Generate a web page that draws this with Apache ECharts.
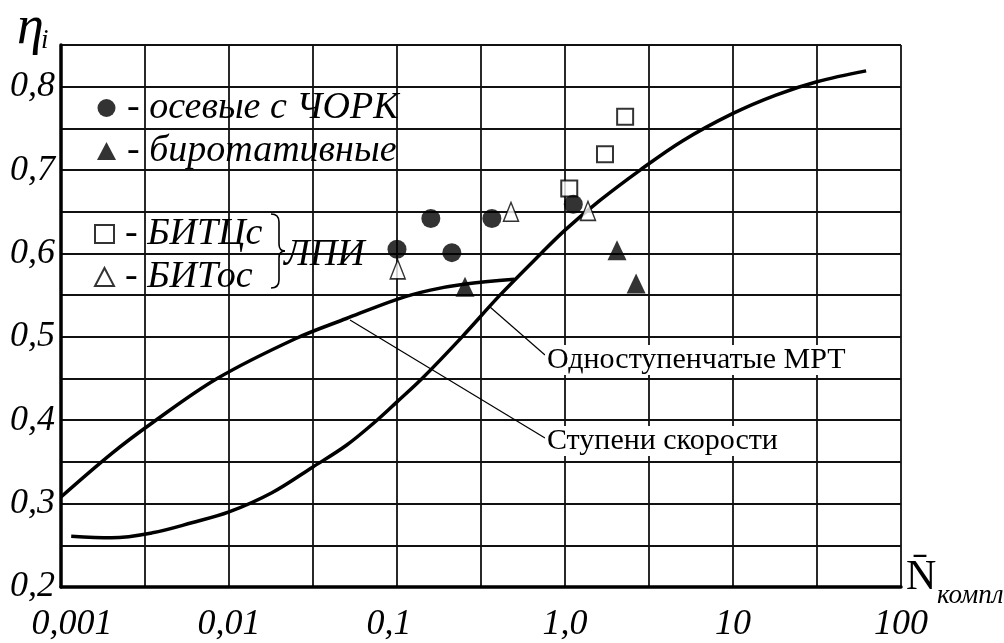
<!DOCTYPE html>
<html>
<head>
<meta charset="utf-8">
<style>
  html, body { margin: 0; padding: 0; background: #fff; }
  #chart { width: 1004px; height: 643px; }
</style>
<script src="https://cdn.jsdelivr.net/npm/echarts@6/dist/echarts.min.js"></script>
</head>
<body>
<div id="chart"></div>
<script>
// curve "Ступени скорости"
const stageX = [0.001, 0.002, 0.0035, 0.0085, 0.025, 0.05, 0.1, 0.158, 0.25, 0.5];
const stageY = [0.308, 0.360, 0.397, 0.450, 0.498, 0.522, 0.545, 0.556, 0.563, 0.569];

// curve "Одноступенчатые МРТ"
const mrtX = [0.00115, 0.002, 0.0035, 0.006, 0.01, 0.018, 0.0316, 0.05, 0.076, 0.1, 0.141, 0.244, 0.41, 0.72, 1.0, 1.6, 2.8, 5, 10, 18, 31.6, 62];
const mrtY = [0.261, 0.259, 0.265, 0.277, 0.290, 0.313, 0.344, 0.370, 0.400, 0.422, 0.450, 0.500, 0.550, 0.600, 0.628, 0.663, 0.700, 0.735, 0.768, 0.790, 0.806, 0.819];

// points
const axialX = [0.1, 0.159, 0.212, 0.367, 1.12];      // осевые с ЧОРК
const axialY = [0.605, 0.642, 0.601, 0.642, 0.659];
const birotX = [0.254, 2.04, 2.65];                   // биротативные
const birotY = [0.560, 0.604, 0.564];
const bitcX = [1.06, 1.73, 2.28];                     // БИТЦс
const bitcY = [0.678, 0.719, 0.764];
const bitosX = [0.101, 0.477, 1.37];                  // БИТос
const bitosY = [0.581, 0.650, 0.651];

const xTickValues = [0.001, 0.01, 0.1, 1, 10, 100];
const xTickText = ["0,001", "0,01", "0,1", "1,0", "10", "100"];
const yTickValues = [0.2, 0.3, 0.4, 0.5, 0.6, 0.7, 0.8];
const yTickText = ["0,2", "0,3", "0,4", "0,5", "0,6", "0,7", "0,8"];

const pairs = (xs, ys) => xs.map((x, i) => [x, ys[i]]);
const SERIF = "Liberation Serif, serif";
const INK = "#000";

// curly brace next to the ЛПИ legend entries
const braceParts = [
  { type: "bezierCurve", shape: { x1: 271, y1: 214, cpx1: 277, cpy1: 214, cpx2: 279, cpy2: 217, x2: 279, y2: 222 } },
  { type: "line", shape: { x1: 279, y1: 222, x2: 279, y2: 244 } },
  { type: "bezierCurve", shape: { x1: 279, y1: 244, cpx1: 279, cpy1: 248, cpx2: 281, cpy2: 251, x2: 285, y2: 251 } },
  { type: "bezierCurve", shape: { x1: 285, y1: 251, cpx1: 281, cpy1: 251, cpx2: 279, cpy2: 254, x2: 279, y2: 258 } },
  { type: "line", shape: { x1: 279, y1: 258, x2: 279, y2: 280 } },
  { type: "bezierCurve", shape: { x1: 279, y1: 280, cpx1: 279, cpy1: 285, cpx2: 277, cpy2: 288, x2: 271, y2: 288 } },
].map((p) => ({ ...p, style: { stroke: INK, lineWidth: 1.6, fill: null }, z: 10 }));

const legendText = { fontFamily: SERIF, fontStyle: "italic", fontSize: 38, lineHeight: 40, color: INK, padding: [0, 0, 0, 6] };

const chart = echarts.init(document.getElementById("chart"), null, { renderer: "canvas" });

chart.setOption({
  animation: false,
  backgroundColor: "#fff",
  textStyle: { fontFamily: SERIF, color: INK },
  grid: { left: 61, top: 45, right: 103, bottom: 56, containLabel: false, outerBoundsMode: "none" },
  xAxis: {
    type: "log",
    logBase: 10,
    min: 0.001,
    max: 100,
    interval: 0.5,
    axisLine: { show: true, lineStyle: { color: INK, width: 3.5 } },
    axisTick: { show: false },
    splitLine: { show: true, lineStyle: { color: "#111", width: 1.8 } },
    axisLabel: {
      margin: 20,
      fontFamily: SERIF,
      fontStyle: "italic",
      fontSize: 36,
      color: INK,
      formatter: (v) => {
        const i = xTickValues.findIndex((t) => Math.abs(Math.log10(t) - Math.log10(v)) < 1e-6);
        if (i < 0) return "";
        if (i === 0) return "{first|" + xTickText[i] + "}";
        if (i === 2) return "{tenth|" + xTickText[i] + "}";
        return xTickText[i];
      },
      rich: {
        first: { fontFamily: SERIF, fontStyle: "italic", fontSize: 36, color: INK, padding: [0, 0, 0, 22] },
        tenth: { fontFamily: SERIF, fontStyle: "italic", fontSize: 36, color: INK, padding: [0, 16, 0, 0] },
      },
    },
  },
  yAxis: {
    type: "value",
    min: 0.2,
    max: 0.85,
    interval: 0.05,
    axisLine: { show: true, lineStyle: { color: INK, width: 3.5 } },
    axisTick: { show: false },
    splitLine: { show: true, lineStyle: { color: "#111", width: 1.8 } },
    axisLabel: {
      margin: 6,
      padding: [0, 0, 8, 0],
      fontFamily: SERIF,
      fontStyle: "italic",
      fontSize: 36,
      color: INK,
      formatter: (v) => {
        const i = yTickValues.findIndex((t) => Math.abs(t - v) < 1e-6);
        return i >= 0 ? yTickText[i] : "";
      },
    },
  },
  legend: [
    {
      data: ["осевые с ЧОРК", "биротативные"],
      orient: "vertical",
      left: 92,
      top: 83,
      itemWidth: 19,
      itemHeight: 18,
      itemGap: 3,
      selectedMode: false,
      formatter: (n) => "- " + n,
      textStyle: legendText,
    },
    {
      data: ["БИТЦс", "БИТос"],
      orient: "vertical",
      left: 89,
      top: 209,
      itemWidth: 19,
      itemHeight: 18,
      itemGap: 3,
      selectedMode: false,
      formatter: (n) => "- " + n,
      textStyle: legendText,
    },
  ],
  series: [
    {
      name: "Ступени скорости",
      type: "line",
      data: pairs(stageX, stageY),
      smooth: 0.35,
      showSymbol: false,
      lineStyle: { color: INK, width: 3.5 },
      z: 2,
    },
    {
      name: "Одноступенчатые МРТ",
      type: "line",
      data: pairs(mrtX, mrtY),
      smooth: 0.35,
      showSymbol: false,
      lineStyle: { color: INK, width: 3.5 },
      z: 2,
    },
    {
      name: "БИТЦс",
      type: "scatter",
      data: pairs(bitcX, bitcY),
      symbol: "rect",
      symbolSize: 16,
      itemStyle: { color: "#fff", borderColor: INK, borderWidth: 2 },
      z: 3,
    },
    {
      name: "осевые с ЧОРК",
      type: "scatter",
      data: pairs(axialX, axialY),
      symbol: "circle",
      symbolSize: 19,
      itemStyle: { color: INK },
      z: 4,
    },
    {
      name: "биротативные",
      type: "scatter",
      data: pairs(birotX, birotY),
      symbol: "triangle",
      symbolSize: [19, 20],
      itemStyle: { color: INK },
      z: 4,
    },
    {
      name: "БИТос",
      type: "scatter",
      data: pairs(bitosX, bitosY),
      symbol: "triangle",
      symbolSize: [15, 19],
      itemStyle: { color: "#fff", borderColor: INK, borderWidth: 1.5 },
      z: 5,
    },
  ],
  graphic: [
    { type: "text", left: 17, top: 2, style: { text: "η", font: "italic 54px " + SERIF, fill: INK } },
    { type: "text", left: 41, top: 27, style: { text: "i", font: "italic 27px " + SERIF, fill: INK } },
    { type: "text", left: 906, top: 557, style: { text: "N\u0304", font: "42px " + SERIF, fill: INK } },
    { type: "text", left: 937, top: 582, style: { text: "компл", font: "italic 27px " + SERIF, fill: INK } },
    ...braceParts,
    { type: "text", left: 284, top: 236, style: { text: "ЛПИ", font: "italic 38px " + SERIF, fill: INK }, z: 10 },
    { type: "line", shape: { x1: 350, y1: 320, x2: 545, y2: 438 }, style: { stroke: INK, lineWidth: 1.2 }, z: 10 },
    { type: "line", shape: { x1: 490, y1: 307, x2: 545, y2: 355 }, style: { stroke: INK, lineWidth: 1.2 }, z: 10 },
    {
      type: "text", left: 545, top: 345, z: 11,
      style: { text: "Одноступенчатые МРТ", font: "30px " + SERIF, fill: INK, backgroundColor: "#fff", padding: [0, 2, 0, 2] },
    },
    {
      type: "text", left: 545, top: 426, z: 11,
      style: { text: "Ступени скорости", font: "30px " + SERIF, fill: INK, backgroundColor: "#fff", padding: [0, 2, 0, 2] },
    },
  ],
});
</script>
</body>
</html>
